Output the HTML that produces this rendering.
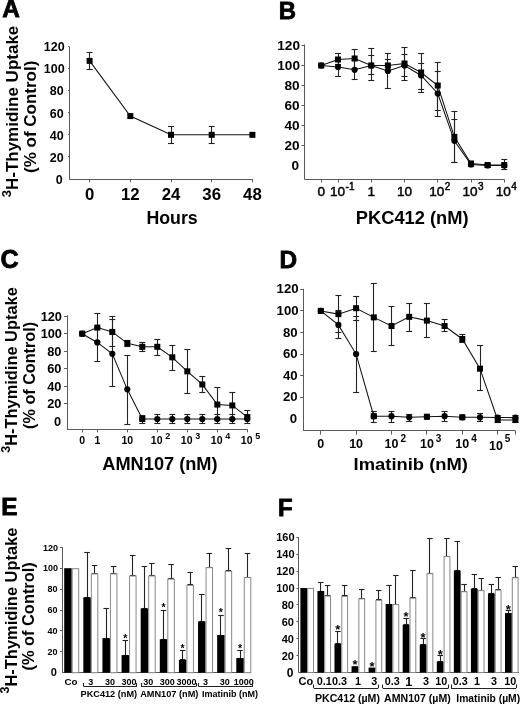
<!DOCTYPE html>
<html><head><meta charset="utf-8"><style>
html,body{margin:0;padding:0;background:#fff;}
svg{display:block;filter:grayscale(1) blur(0.35px);}
text{font-family:"Liberation Sans", sans-serif;fill:#000;}
</style></head><body>
<svg width="520" height="705" viewBox="0 0 520 705">
<rect width="520" height="705" fill="#fff"/>
<text x="2.30" y="17.20" font-size="24.4" text-anchor="start" font-weight="bold" stroke="#000" stroke-width="0.8" stroke-linejoin="miter">A</text>
<text transform="translate(17.70,111.50) rotate(-90)" font-size="17" text-anchor="middle" font-weight="bold"><tspan font-size="13" dy="-7.20">3</tspan><tspan dy="7.20">H-Thymidine Uptake</tspan></text>
<text transform="translate(35.60,116.80) rotate(-90)" font-size="17" text-anchor="middle" font-weight="bold">(% of Control)</text>
<line x1="69.50" y1="46.50" x2="69.50" y2="179.30" stroke="#5a5a5a" stroke-width="1.0"/>
<line x1="68.10" y1="46.50" x2="69.30" y2="46.50" stroke="#5a5a5a" stroke-width="1.0"/>
<text x="64.60" y="51.32" font-size="12.5" text-anchor="end" font-weight="bold" >120</text>
<line x1="68.10" y1="68.50" x2="69.30" y2="68.50" stroke="#5a5a5a" stroke-width="1.0"/>
<text x="64.60" y="73.40" font-size="12.5" text-anchor="end" font-weight="bold" >100</text>
<line x1="68.10" y1="90.50" x2="69.30" y2="90.50" stroke="#5a5a5a" stroke-width="1.0"/>
<text x="63.60" y="95.48" font-size="12.5" text-anchor="end" font-weight="bold" >80</text>
<line x1="68.10" y1="112.50" x2="69.30" y2="112.50" stroke="#5a5a5a" stroke-width="1.0"/>
<text x="63.60" y="117.56" font-size="12.5" text-anchor="end" font-weight="bold" >60</text>
<line x1="68.10" y1="134.50" x2="69.30" y2="134.50" stroke="#5a5a5a" stroke-width="1.0"/>
<text x="63.60" y="139.64" font-size="12.5" text-anchor="end" font-weight="bold" >40</text>
<line x1="68.10" y1="156.50" x2="69.30" y2="156.50" stroke="#5a5a5a" stroke-width="1.0"/>
<text x="63.60" y="161.72" font-size="12.5" text-anchor="end" font-weight="bold" >20</text>
<text x="62.60" y="183.80" font-size="12.5" text-anchor="end" font-weight="bold" >0</text>
<line x1="69.30" y1="179.50" x2="252.80" y2="179.50" stroke="#5a5a5a" stroke-width="1.0"/>
<line x1="89.50" y1="179.30" x2="89.50" y2="182.30" stroke="#5a5a5a" stroke-width="1.0"/>
<text x="89.60" y="199.80" font-size="16.8" text-anchor="middle" font-weight="bold" >0</text>
<line x1="130.50" y1="179.30" x2="130.50" y2="182.30" stroke="#5a5a5a" stroke-width="1.0"/>
<text x="130.30" y="199.80" font-size="16.8" text-anchor="middle" font-weight="bold" >12</text>
<line x1="171.50" y1="179.30" x2="171.50" y2="182.30" stroke="#5a5a5a" stroke-width="1.0"/>
<text x="171.00" y="199.80" font-size="16.8" text-anchor="middle" font-weight="bold" >24</text>
<line x1="211.50" y1="179.30" x2="211.50" y2="182.30" stroke="#5a5a5a" stroke-width="1.0"/>
<text x="211.70" y="199.80" font-size="16.8" text-anchor="middle" font-weight="bold" >36</text>
<line x1="252.50" y1="179.30" x2="252.50" y2="182.30" stroke="#5a5a5a" stroke-width="1.0"/>
<text x="252.40" y="199.80" font-size="16.8" text-anchor="middle" font-weight="bold" >48</text>
<text transform="translate(146.40,223.60) scale(1.0100,1)" font-size="17.6" text-anchor="start" font-weight="bold" >Hours</text>
<polyline points="89.60,60.87 130.30,116.07 171.00,134.84 211.70,134.84 252.40,134.84" fill="none" stroke="#111" stroke-width="1.05"/>
<line x1="89.50" y1="52.10" x2="89.50" y2="69.80" stroke="#222" stroke-width="1.1"/>
<line x1="86.60" y1="52.50" x2="92.60" y2="52.50" stroke="#222" stroke-width="1.1"/>
<line x1="86.60" y1="69.50" x2="92.60" y2="69.50" stroke="#222" stroke-width="1.1"/>
<line x1="171.50" y1="126.00" x2="171.50" y2="143.50" stroke="#222" stroke-width="1.1"/>
<line x1="168.00" y1="126.50" x2="174.00" y2="126.50" stroke="#222" stroke-width="1.1"/>
<line x1="168.00" y1="143.50" x2="174.00" y2="143.50" stroke="#222" stroke-width="1.1"/>
<line x1="211.50" y1="126.00" x2="211.50" y2="143.50" stroke="#222" stroke-width="1.1"/>
<line x1="208.70" y1="126.50" x2="214.70" y2="126.50" stroke="#222" stroke-width="1.1"/>
<line x1="208.70" y1="143.50" x2="214.70" y2="143.50" stroke="#222" stroke-width="1.1"/>
<rect x="86.60" y="57.87" width="6.00" height="6.00" fill="#000" stroke="none" stroke-width="1"/>
<rect x="127.30" y="113.07" width="6.00" height="6.00" fill="#000" stroke="none" stroke-width="1"/>
<rect x="168.00" y="131.84" width="6.00" height="6.00" fill="#000" stroke="none" stroke-width="1"/>
<rect x="208.70" y="131.84" width="6.00" height="6.00" fill="#000" stroke="none" stroke-width="1"/>
<rect x="249.40" y="131.84" width="6.00" height="6.00" fill="#000" stroke="none" stroke-width="1"/>
<text x="278.70" y="19.30" font-size="23.9" text-anchor="start" font-weight="bold" stroke="#000" stroke-width="0.8" stroke-linejoin="miter">B</text>
<line x1="304.50" y1="44.50" x2="304.50" y2="179.50" stroke="#5a5a5a" stroke-width="1.0"/>
<line x1="301.50" y1="45.50" x2="304.50" y2="45.50" stroke="#5a5a5a" stroke-width="1.0"/>
<text x="300.00" y="50.40" font-size="13.6" text-anchor="end" font-weight="bold" >120</text>
<line x1="301.50" y1="65.50" x2="304.50" y2="65.50" stroke="#5a5a5a" stroke-width="1.0"/>
<text x="300.00" y="70.40" font-size="13.6" text-anchor="end" font-weight="bold" >100</text>
<line x1="301.50" y1="85.50" x2="304.50" y2="85.50" stroke="#5a5a5a" stroke-width="1.0"/>
<text x="299.50" y="90.40" font-size="13.6" text-anchor="end" font-weight="bold" >80</text>
<line x1="301.50" y1="105.50" x2="304.50" y2="105.50" stroke="#5a5a5a" stroke-width="1.0"/>
<text x="299.50" y="110.40" font-size="13.6" text-anchor="end" font-weight="bold" >60</text>
<line x1="301.50" y1="125.50" x2="304.50" y2="125.50" stroke="#5a5a5a" stroke-width="1.0"/>
<text x="299.50" y="130.40" font-size="13.6" text-anchor="end" font-weight="bold" >40</text>
<line x1="301.50" y1="145.50" x2="304.50" y2="145.50" stroke="#5a5a5a" stroke-width="1.0"/>
<text x="299.50" y="150.40" font-size="13.6" text-anchor="end" font-weight="bold" >20</text>
<text x="299.00" y="170.40" font-size="13.6" text-anchor="end" font-weight="bold" >0</text>
<line x1="304.50" y1="179.50" x2="504.60" y2="179.50" stroke="#5a5a5a" stroke-width="1.0"/>
<line x1="321.50" y1="179.50" x2="321.50" y2="182.50" stroke="#5a5a5a" stroke-width="1.0"/>
<line x1="338.50" y1="179.50" x2="338.50" y2="182.50" stroke="#5a5a5a" stroke-width="1.0"/>
<line x1="371.50" y1="179.50" x2="371.50" y2="182.50" stroke="#5a5a5a" stroke-width="1.0"/>
<line x1="404.50" y1="179.50" x2="404.50" y2="182.50" stroke="#5a5a5a" stroke-width="1.0"/>
<line x1="437.50" y1="179.50" x2="437.50" y2="182.50" stroke="#5a5a5a" stroke-width="1.0"/>
<line x1="471.50" y1="179.50" x2="471.50" y2="182.50" stroke="#5a5a5a" stroke-width="1.0"/>
<line x1="504.50" y1="179.50" x2="504.50" y2="182.50" stroke="#5a5a5a" stroke-width="1.0"/>
<text x="321.25" y="195.90" font-size="13.6" text-anchor="middle" font-weight="normal" stroke="#000" stroke-width="0.45">0</text>
<text x="337.50" y="195.90" font-size="13.6" text-anchor="middle" font-weight="normal" stroke="#000" stroke-width="0.45">10</text>
<text x="345.56" y="189.90" font-size="10" font-weight="normal" stroke="#000" stroke-width="0.45">-1</text>
<text x="371.25" y="195.90" font-size="13.6" text-anchor="middle" font-weight="normal" stroke="#000" stroke-width="0.45">1</text>
<text x="404.50" y="195.90" font-size="13.6" text-anchor="middle" font-weight="normal" stroke="#000" stroke-width="0.45">10</text>
<text x="436.75" y="195.90" font-size="13.6" text-anchor="middle" font-weight="normal" stroke="#000" stroke-width="0.45">10</text>
<text x="444.81" y="189.90" font-size="10" font-weight="normal" stroke="#000" stroke-width="0.45">2</text>
<text x="470.00" y="195.90" font-size="13.6" text-anchor="middle" font-weight="normal" stroke="#000" stroke-width="0.45">10</text>
<text x="478.06" y="189.90" font-size="10" font-weight="normal" stroke="#000" stroke-width="0.45">3</text>
<text x="503.25" y="195.90" font-size="13.6" text-anchor="middle" font-weight="normal" stroke="#000" stroke-width="0.45">10</text>
<text x="511.31" y="189.90" font-size="10" font-weight="normal" stroke="#000" stroke-width="0.45">4</text>
<text transform="translate(355.80,223.70) scale(1.0170,1)" font-size="18" text-anchor="start" font-weight="bold" >PKC412 (nM)</text>
<line x1="338.50" y1="53.80" x2="338.50" y2="64.60" stroke="#222" stroke-width="1.1"/>
<line x1="335.00" y1="53.50" x2="341.00" y2="53.50" stroke="#222" stroke-width="1.1"/>
<line x1="335.00" y1="64.50" x2="341.00" y2="64.50" stroke="#222" stroke-width="1.1"/>
<line x1="338.50" y1="57.80" x2="338.50" y2="76.00" stroke="#222" stroke-width="1.1"/>
<line x1="335.00" y1="57.50" x2="341.00" y2="57.50" stroke="#222" stroke-width="1.1"/>
<line x1="335.00" y1="76.50" x2="341.00" y2="76.50" stroke="#222" stroke-width="1.1"/>
<line x1="354.50" y1="49.20" x2="354.50" y2="68.20" stroke="#222" stroke-width="1.1"/>
<line x1="351.62" y1="49.50" x2="357.62" y2="49.50" stroke="#222" stroke-width="1.1"/>
<line x1="351.62" y1="68.50" x2="357.62" y2="68.50" stroke="#222" stroke-width="1.1"/>
<line x1="354.50" y1="60.60" x2="354.50" y2="79.00" stroke="#222" stroke-width="1.1"/>
<line x1="351.62" y1="60.50" x2="357.62" y2="60.50" stroke="#222" stroke-width="1.1"/>
<line x1="351.62" y1="79.50" x2="357.62" y2="79.50" stroke="#222" stroke-width="1.1"/>
<line x1="371.50" y1="55.20" x2="371.50" y2="74.00" stroke="#222" stroke-width="1.1"/>
<line x1="368.25" y1="55.50" x2="374.25" y2="55.50" stroke="#222" stroke-width="1.1"/>
<line x1="368.25" y1="74.50" x2="374.25" y2="74.50" stroke="#222" stroke-width="1.1"/>
<line x1="371.50" y1="48.70" x2="371.50" y2="80.80" stroke="#222" stroke-width="1.1"/>
<line x1="368.25" y1="48.50" x2="374.25" y2="48.50" stroke="#222" stroke-width="1.1"/>
<line x1="368.25" y1="80.50" x2="374.25" y2="80.50" stroke="#222" stroke-width="1.1"/>
<line x1="387.50" y1="59.20" x2="387.50" y2="70.00" stroke="#222" stroke-width="1.1"/>
<line x1="384.88" y1="59.50" x2="390.88" y2="59.50" stroke="#222" stroke-width="1.1"/>
<line x1="384.88" y1="70.50" x2="390.88" y2="70.50" stroke="#222" stroke-width="1.1"/>
<line x1="387.50" y1="53.80" x2="387.50" y2="88.00" stroke="#222" stroke-width="1.1"/>
<line x1="384.88" y1="53.50" x2="390.88" y2="53.50" stroke="#222" stroke-width="1.1"/>
<line x1="384.88" y1="88.50" x2="390.88" y2="88.50" stroke="#222" stroke-width="1.1"/>
<line x1="404.50" y1="47.70" x2="404.50" y2="80.30" stroke="#222" stroke-width="1.1"/>
<line x1="401.50" y1="47.50" x2="407.50" y2="47.50" stroke="#222" stroke-width="1.1"/>
<line x1="401.50" y1="80.50" x2="407.50" y2="80.50" stroke="#222" stroke-width="1.1"/>
<line x1="404.50" y1="54.90" x2="404.50" y2="76.90" stroke="#222" stroke-width="1.1"/>
<line x1="401.50" y1="54.50" x2="407.50" y2="54.50" stroke="#222" stroke-width="1.1"/>
<line x1="401.50" y1="76.50" x2="407.50" y2="76.50" stroke="#222" stroke-width="1.1"/>
<line x1="421.50" y1="53.50" x2="421.50" y2="92.30" stroke="#222" stroke-width="1.1"/>
<line x1="418.12" y1="53.50" x2="424.12" y2="53.50" stroke="#222" stroke-width="1.1"/>
<line x1="418.12" y1="92.50" x2="424.12" y2="92.50" stroke="#222" stroke-width="1.1"/>
<line x1="421.50" y1="63.00" x2="421.50" y2="89.20" stroke="#222" stroke-width="1.1"/>
<line x1="418.12" y1="63.50" x2="424.12" y2="63.50" stroke="#222" stroke-width="1.1"/>
<line x1="418.12" y1="89.50" x2="424.12" y2="89.50" stroke="#222" stroke-width="1.1"/>
<line x1="437.50" y1="62.00" x2="437.50" y2="110.50" stroke="#222" stroke-width="1.1"/>
<line x1="434.75" y1="62.50" x2="440.75" y2="62.50" stroke="#222" stroke-width="1.1"/>
<line x1="434.75" y1="110.50" x2="440.75" y2="110.50" stroke="#222" stroke-width="1.1"/>
<line x1="437.50" y1="71.20" x2="437.50" y2="116.60" stroke="#222" stroke-width="1.1"/>
<line x1="434.75" y1="71.50" x2="440.75" y2="71.50" stroke="#222" stroke-width="1.1"/>
<line x1="434.75" y1="116.50" x2="440.75" y2="116.50" stroke="#222" stroke-width="1.1"/>
<line x1="454.50" y1="111.50" x2="454.50" y2="162.30" stroke="#222" stroke-width="1.1"/>
<line x1="451.38" y1="111.50" x2="457.38" y2="111.50" stroke="#222" stroke-width="1.1"/>
<line x1="451.38" y1="162.50" x2="457.38" y2="162.50" stroke="#222" stroke-width="1.1"/>
<line x1="454.50" y1="119.50" x2="454.50" y2="162.10" stroke="#222" stroke-width="1.1"/>
<line x1="451.38" y1="119.50" x2="457.38" y2="119.50" stroke="#222" stroke-width="1.1"/>
<line x1="451.38" y1="162.50" x2="457.38" y2="162.50" stroke="#222" stroke-width="1.1"/>
<line x1="471.50" y1="161.50" x2="471.50" y2="166.00" stroke="#222" stroke-width="1.1"/>
<line x1="468.00" y1="161.50" x2="474.00" y2="161.50" stroke="#222" stroke-width="1.1"/>
<line x1="468.00" y1="166.50" x2="474.00" y2="166.50" stroke="#222" stroke-width="1.1"/>
<line x1="487.50" y1="163.00" x2="487.50" y2="167.50" stroke="#222" stroke-width="1.1"/>
<line x1="484.62" y1="163.50" x2="490.62" y2="163.50" stroke="#222" stroke-width="1.1"/>
<line x1="484.62" y1="167.50" x2="490.62" y2="167.50" stroke="#222" stroke-width="1.1"/>
<line x1="504.50" y1="159.70" x2="504.50" y2="169.50" stroke="#222" stroke-width="1.1"/>
<line x1="501.25" y1="159.50" x2="507.25" y2="159.50" stroke="#222" stroke-width="1.1"/>
<line x1="501.25" y1="169.50" x2="507.25" y2="169.50" stroke="#222" stroke-width="1.1"/>
<polyline points="321.25,65.50 338.00,59.50 354.62,58.50 371.25,65.50 387.88,65.50 404.50,63.50 421.12,72.50 437.75,85.50 454.38,136.90 471.00,163.50 487.62,165.00 504.25,165.00" fill="none" stroke="#111" stroke-width="1.05"/>
<polyline points="321.25,65.50 338.00,66.90 354.62,69.80 371.25,65.50 387.88,70.90 404.50,65.50 421.12,75.50 437.75,93.50 454.38,140.80 471.00,164.50 487.62,165.50 504.25,165.50" fill="none" stroke="#111" stroke-width="1.05"/>
<circle cx="321.25" cy="65.50" r="3.1" fill="#000"/>
<circle cx="338.00" cy="66.90" r="3.1" fill="#000"/>
<circle cx="354.62" cy="69.80" r="3.1" fill="#000"/>
<circle cx="371.25" cy="65.50" r="3.1" fill="#000"/>
<circle cx="387.88" cy="70.90" r="3.1" fill="#000"/>
<circle cx="404.50" cy="65.50" r="3.1" fill="#000"/>
<circle cx="421.12" cy="75.50" r="3.1" fill="#000"/>
<circle cx="437.75" cy="93.50" r="3.1" fill="#000"/>
<circle cx="454.38" cy="140.80" r="3.1" fill="#000"/>
<circle cx="471.00" cy="164.50" r="3.1" fill="#000"/>
<circle cx="487.62" cy="165.50" r="3.1" fill="#000"/>
<circle cx="504.25" cy="165.50" r="3.1" fill="#000"/>
<rect x="318.25" y="62.50" width="6.00" height="6.00" fill="#000" stroke="none" stroke-width="1"/>
<rect x="335.00" y="56.50" width="6.00" height="6.00" fill="#000" stroke="none" stroke-width="1"/>
<rect x="351.62" y="55.50" width="6.00" height="6.00" fill="#000" stroke="none" stroke-width="1"/>
<rect x="368.25" y="62.50" width="6.00" height="6.00" fill="#000" stroke="none" stroke-width="1"/>
<rect x="384.88" y="62.50" width="6.00" height="6.00" fill="#000" stroke="none" stroke-width="1"/>
<rect x="401.50" y="60.50" width="6.00" height="6.00" fill="#000" stroke="none" stroke-width="1"/>
<rect x="418.12" y="69.50" width="6.00" height="6.00" fill="#000" stroke="none" stroke-width="1"/>
<rect x="434.75" y="82.50" width="6.00" height="6.00" fill="#000" stroke="none" stroke-width="1"/>
<rect x="451.38" y="133.90" width="6.00" height="6.00" fill="#000" stroke="none" stroke-width="1"/>
<rect x="468.00" y="160.50" width="6.00" height="6.00" fill="#000" stroke="none" stroke-width="1"/>
<rect x="484.62" y="162.00" width="6.00" height="6.00" fill="#000" stroke="none" stroke-width="1"/>
<rect x="501.25" y="162.00" width="6.00" height="6.00" fill="#000" stroke="none" stroke-width="1"/>
<text x="0.50" y="267.90" font-size="25.2" text-anchor="start" font-weight="bold" stroke="#000" stroke-width="0.8" stroke-linejoin="miter">C</text>
<text transform="translate(17.40,370.00) rotate(-90)" font-size="16.4" text-anchor="middle" font-weight="bold"><tspan font-size="12.6" dy="-7.00">3</tspan><tspan dy="7.00">H-Thymidine Uptake</tspan></text>
<text transform="translate(34.60,375.40) rotate(-90)" font-size="16.2" text-anchor="middle" font-weight="bold">(% of Control)</text>
<line x1="67.50" y1="315.30" x2="67.50" y2="429.40" stroke="#5a5a5a" stroke-width="1.0"/>
<line x1="64.00" y1="316.50" x2="67.00" y2="316.50" stroke="#5a5a5a" stroke-width="1.0"/>
<text x="62.00" y="320.81" font-size="12.8" text-anchor="end" font-weight="bold" >120</text>
<line x1="64.00" y1="333.50" x2="67.00" y2="333.50" stroke="#5a5a5a" stroke-width="1.0"/>
<text x="62.00" y="338.31" font-size="12.8" text-anchor="end" font-weight="bold" >100</text>
<line x1="64.00" y1="351.50" x2="67.00" y2="351.50" stroke="#5a5a5a" stroke-width="1.0"/>
<text x="61.40" y="355.81" font-size="12.8" text-anchor="end" font-weight="bold" >80</text>
<line x1="64.00" y1="368.50" x2="67.00" y2="368.50" stroke="#5a5a5a" stroke-width="1.0"/>
<text x="61.40" y="373.31" font-size="12.8" text-anchor="end" font-weight="bold" >60</text>
<line x1="64.00" y1="386.50" x2="67.00" y2="386.50" stroke="#5a5a5a" stroke-width="1.0"/>
<text x="61.40" y="390.81" font-size="12.8" text-anchor="end" font-weight="bold" >40</text>
<line x1="64.00" y1="403.50" x2="67.00" y2="403.50" stroke="#5a5a5a" stroke-width="1.0"/>
<text x="61.40" y="408.31" font-size="12.8" text-anchor="end" font-weight="bold" >20</text>
<text x="61.10" y="425.81" font-size="12.8" text-anchor="end" font-weight="bold" >0</text>
<line x1="67.00" y1="429.50" x2="247.60" y2="429.50" stroke="#5a5a5a" stroke-width="1.0"/>
<line x1="82.50" y1="429.40" x2="82.50" y2="432.40" stroke="#5a5a5a" stroke-width="1.0"/>
<line x1="97.50" y1="429.40" x2="97.50" y2="432.40" stroke="#5a5a5a" stroke-width="1.0"/>
<line x1="127.50" y1="429.40" x2="127.50" y2="432.40" stroke="#5a5a5a" stroke-width="1.0"/>
<line x1="157.50" y1="429.40" x2="157.50" y2="432.40" stroke="#5a5a5a" stroke-width="1.0"/>
<line x1="187.50" y1="429.40" x2="187.50" y2="432.40" stroke="#5a5a5a" stroke-width="1.0"/>
<line x1="217.50" y1="429.40" x2="217.50" y2="432.40" stroke="#5a5a5a" stroke-width="1.0"/>
<line x1="247.50" y1="429.40" x2="247.50" y2="432.40" stroke="#5a5a5a" stroke-width="1.0"/>
<text x="82.20" y="443.50" font-size="10.5" text-anchor="middle" font-weight="bold" >0</text>
<text x="97.30" y="443.50" font-size="10.5" text-anchor="middle" font-weight="bold" >1</text>
<text x="127.30" y="443.50" font-size="10.5" text-anchor="middle" font-weight="bold" >10</text>
<text x="156.70" y="443.50" font-size="10.5" text-anchor="middle" font-weight="bold" >10</text>
<text x="165.14" y="438.50" font-size="9" font-weight="bold" >2</text>
<text x="186.70" y="443.50" font-size="10.5" text-anchor="middle" font-weight="bold" >10</text>
<text x="195.14" y="438.50" font-size="9" font-weight="bold" >3</text>
<text x="216.70" y="443.50" font-size="10.5" text-anchor="middle" font-weight="bold" >10</text>
<text x="225.14" y="438.50" font-size="9" font-weight="bold" >4</text>
<text x="246.70" y="443.50" font-size="10.5" text-anchor="middle" font-weight="bold" >10</text>
<text x="255.14" y="438.50" font-size="9" font-weight="bold" >5</text>
<text transform="translate(102.30,470.20) scale(1.0230,1)" font-size="17.8" text-anchor="start" font-weight="bold" >AMN107 (nM)</text>
<line x1="97.50" y1="313.80" x2="97.50" y2="341.20" stroke="#222" stroke-width="1.1"/>
<line x1="94.30" y1="313.50" x2="100.30" y2="313.50" stroke="#222" stroke-width="1.1"/>
<line x1="94.30" y1="341.50" x2="100.30" y2="341.50" stroke="#222" stroke-width="1.1"/>
<line x1="97.50" y1="327.50" x2="97.50" y2="361.50" stroke="#222" stroke-width="1.1"/>
<line x1="94.30" y1="327.50" x2="100.30" y2="327.50" stroke="#222" stroke-width="1.1"/>
<line x1="94.30" y1="361.50" x2="100.30" y2="361.50" stroke="#222" stroke-width="1.1"/>
<line x1="112.50" y1="316.70" x2="112.50" y2="346.50" stroke="#222" stroke-width="1.1"/>
<line x1="109.30" y1="316.50" x2="115.30" y2="316.50" stroke="#222" stroke-width="1.1"/>
<line x1="109.30" y1="346.50" x2="115.30" y2="346.50" stroke="#222" stroke-width="1.1"/>
<line x1="112.50" y1="319.80" x2="112.50" y2="386.90" stroke="#222" stroke-width="1.1"/>
<line x1="109.30" y1="319.50" x2="115.30" y2="319.50" stroke="#222" stroke-width="1.1"/>
<line x1="109.30" y1="386.50" x2="115.30" y2="386.50" stroke="#222" stroke-width="1.1"/>
<line x1="127.50" y1="355.40" x2="127.50" y2="424.00" stroke="#222" stroke-width="1.1"/>
<line x1="124.30" y1="355.50" x2="130.30" y2="355.50" stroke="#222" stroke-width="1.1"/>
<line x1="124.30" y1="424.50" x2="130.30" y2="424.50" stroke="#222" stroke-width="1.1"/>
<line x1="127.50" y1="340.50" x2="127.50" y2="346.10" stroke="#222" stroke-width="1.1"/>
<line x1="124.30" y1="340.50" x2="130.30" y2="340.50" stroke="#222" stroke-width="1.1"/>
<line x1="124.30" y1="346.50" x2="130.30" y2="346.50" stroke="#222" stroke-width="1.1"/>
<line x1="142.50" y1="342.70" x2="142.50" y2="351.50" stroke="#222" stroke-width="1.1"/>
<line x1="139.30" y1="342.50" x2="145.30" y2="342.50" stroke="#222" stroke-width="1.1"/>
<line x1="139.30" y1="351.50" x2="145.30" y2="351.50" stroke="#222" stroke-width="1.1"/>
<line x1="142.50" y1="415.00" x2="142.50" y2="423.00" stroke="#222" stroke-width="1.1"/>
<line x1="139.30" y1="415.50" x2="145.30" y2="415.50" stroke="#222" stroke-width="1.1"/>
<line x1="139.30" y1="423.50" x2="145.30" y2="423.50" stroke="#222" stroke-width="1.1"/>
<line x1="157.50" y1="339.40" x2="157.50" y2="355.40" stroke="#222" stroke-width="1.1"/>
<line x1="154.30" y1="339.50" x2="160.30" y2="339.50" stroke="#222" stroke-width="1.1"/>
<line x1="154.30" y1="355.50" x2="160.30" y2="355.50" stroke="#222" stroke-width="1.1"/>
<line x1="157.50" y1="414.40" x2="157.50" y2="423.80" stroke="#222" stroke-width="1.1"/>
<line x1="154.30" y1="414.50" x2="160.30" y2="414.50" stroke="#222" stroke-width="1.1"/>
<line x1="154.30" y1="423.50" x2="160.30" y2="423.50" stroke="#222" stroke-width="1.1"/>
<line x1="172.50" y1="345.50" x2="172.50" y2="370.20" stroke="#222" stroke-width="1.1"/>
<line x1="169.30" y1="345.50" x2="175.30" y2="345.50" stroke="#222" stroke-width="1.1"/>
<line x1="169.30" y1="370.50" x2="175.30" y2="370.50" stroke="#222" stroke-width="1.1"/>
<line x1="172.50" y1="414.50" x2="172.50" y2="423.50" stroke="#222" stroke-width="1.1"/>
<line x1="169.30" y1="414.50" x2="175.30" y2="414.50" stroke="#222" stroke-width="1.1"/>
<line x1="169.30" y1="423.50" x2="175.30" y2="423.50" stroke="#222" stroke-width="1.1"/>
<line x1="187.50" y1="349.10" x2="187.50" y2="393.10" stroke="#222" stroke-width="1.1"/>
<line x1="184.30" y1="349.50" x2="190.30" y2="349.50" stroke="#222" stroke-width="1.1"/>
<line x1="184.30" y1="393.50" x2="190.30" y2="393.50" stroke="#222" stroke-width="1.1"/>
<line x1="187.50" y1="414.50" x2="187.50" y2="423.50" stroke="#222" stroke-width="1.1"/>
<line x1="184.30" y1="414.50" x2="190.30" y2="414.50" stroke="#222" stroke-width="1.1"/>
<line x1="184.30" y1="423.50" x2="190.30" y2="423.50" stroke="#222" stroke-width="1.1"/>
<line x1="202.50" y1="376.60" x2="202.50" y2="392.00" stroke="#222" stroke-width="1.1"/>
<line x1="199.30" y1="376.50" x2="205.30" y2="376.50" stroke="#222" stroke-width="1.1"/>
<line x1="199.30" y1="392.50" x2="205.30" y2="392.50" stroke="#222" stroke-width="1.1"/>
<line x1="202.50" y1="414.50" x2="202.50" y2="423.50" stroke="#222" stroke-width="1.1"/>
<line x1="199.30" y1="414.50" x2="205.30" y2="414.50" stroke="#222" stroke-width="1.1"/>
<line x1="199.30" y1="423.50" x2="205.30" y2="423.50" stroke="#222" stroke-width="1.1"/>
<line x1="217.50" y1="387.80" x2="217.50" y2="420.80" stroke="#222" stroke-width="1.1"/>
<line x1="214.30" y1="387.50" x2="220.30" y2="387.50" stroke="#222" stroke-width="1.1"/>
<line x1="214.30" y1="420.50" x2="220.30" y2="420.50" stroke="#222" stroke-width="1.1"/>
<line x1="217.50" y1="414.50" x2="217.50" y2="423.50" stroke="#222" stroke-width="1.1"/>
<line x1="214.30" y1="414.50" x2="220.30" y2="414.50" stroke="#222" stroke-width="1.1"/>
<line x1="214.30" y1="423.50" x2="220.30" y2="423.50" stroke="#222" stroke-width="1.1"/>
<line x1="232.50" y1="392.40" x2="232.50" y2="419.20" stroke="#222" stroke-width="1.1"/>
<line x1="229.30" y1="392.50" x2="235.30" y2="392.50" stroke="#222" stroke-width="1.1"/>
<line x1="229.30" y1="419.50" x2="235.30" y2="419.50" stroke="#222" stroke-width="1.1"/>
<line x1="232.50" y1="414.50" x2="232.50" y2="423.50" stroke="#222" stroke-width="1.1"/>
<line x1="229.30" y1="414.50" x2="235.30" y2="414.50" stroke="#222" stroke-width="1.1"/>
<line x1="229.30" y1="423.50" x2="235.30" y2="423.50" stroke="#222" stroke-width="1.1"/>
<line x1="247.50" y1="410.40" x2="247.50" y2="423.80" stroke="#222" stroke-width="1.1"/>
<line x1="244.30" y1="410.50" x2="250.30" y2="410.50" stroke="#222" stroke-width="1.1"/>
<line x1="244.30" y1="423.50" x2="250.30" y2="423.50" stroke="#222" stroke-width="1.1"/>
<polyline points="82.20,333.70 97.30,327.57 112.30,331.95 127.30,343.32 142.30,346.82 157.30,346.82 172.30,357.32 187.30,371.32 202.30,384.45 217.30,404.57 232.30,405.45 247.30,417.09" fill="none" stroke="#111" stroke-width="1.05"/>
<polyline points="82.20,333.70 97.30,342.45 112.30,353.82 127.30,389.35 142.30,419.01 157.30,419.01 172.30,419.01 187.30,419.01 202.30,419.01 217.30,419.01 232.30,419.01 247.30,419.01" fill="none" stroke="#111" stroke-width="1.05"/>
<circle cx="82.20" cy="333.70" r="3.1" fill="#000"/>
<circle cx="97.30" cy="342.45" r="3.1" fill="#000"/>
<circle cx="112.30" cy="353.82" r="3.1" fill="#000"/>
<circle cx="127.30" cy="389.35" r="3.1" fill="#000"/>
<circle cx="142.30" cy="419.01" r="3.1" fill="#000"/>
<circle cx="157.30" cy="419.01" r="3.1" fill="#000"/>
<circle cx="172.30" cy="419.01" r="3.1" fill="#000"/>
<circle cx="187.30" cy="419.01" r="3.1" fill="#000"/>
<circle cx="202.30" cy="419.01" r="3.1" fill="#000"/>
<circle cx="217.30" cy="419.01" r="3.1" fill="#000"/>
<circle cx="232.30" cy="419.01" r="3.1" fill="#000"/>
<circle cx="247.30" cy="419.01" r="3.1" fill="#000"/>
<rect x="79.20" y="330.70" width="6.00" height="6.00" fill="#000" stroke="none" stroke-width="1"/>
<rect x="94.30" y="324.57" width="6.00" height="6.00" fill="#000" stroke="none" stroke-width="1"/>
<rect x="109.30" y="328.95" width="6.00" height="6.00" fill="#000" stroke="none" stroke-width="1"/>
<rect x="124.30" y="340.32" width="6.00" height="6.00" fill="#000" stroke="none" stroke-width="1"/>
<rect x="139.30" y="343.82" width="6.00" height="6.00" fill="#000" stroke="none" stroke-width="1"/>
<rect x="154.30" y="343.82" width="6.00" height="6.00" fill="#000" stroke="none" stroke-width="1"/>
<rect x="169.30" y="354.32" width="6.00" height="6.00" fill="#000" stroke="none" stroke-width="1"/>
<rect x="184.30" y="368.32" width="6.00" height="6.00" fill="#000" stroke="none" stroke-width="1"/>
<rect x="199.30" y="381.45" width="6.00" height="6.00" fill="#000" stroke="none" stroke-width="1"/>
<rect x="214.30" y="401.57" width="6.00" height="6.00" fill="#000" stroke="none" stroke-width="1"/>
<rect x="229.30" y="402.45" width="6.00" height="6.00" fill="#000" stroke="none" stroke-width="1"/>
<rect x="244.30" y="414.09" width="6.00" height="6.00" fill="#000" stroke="none" stroke-width="1"/>
<rect x="139.30" y="416.01" width="6.00" height="6.00" fill="#000" stroke="none" stroke-width="1"/>
<text x="279.50" y="267.60" font-size="24.4" text-anchor="start" font-weight="bold" stroke="#000" stroke-width="0.8" stroke-linejoin="miter">D</text>
<line x1="303.50" y1="288.80" x2="303.50" y2="430.60" stroke="#5a5a5a" stroke-width="1.0"/>
<line x1="300.20" y1="289.50" x2="303.20" y2="289.50" stroke="#5a5a5a" stroke-width="1.0"/>
<text x="298.60" y="293.45" font-size="13.2" text-anchor="end" font-weight="bold" >120</text>
<line x1="300.20" y1="310.50" x2="303.20" y2="310.50" stroke="#5a5a5a" stroke-width="1.0"/>
<text x="298.60" y="315.05" font-size="13.2" text-anchor="end" font-weight="bold" >100</text>
<line x1="300.20" y1="332.50" x2="303.20" y2="332.50" stroke="#5a5a5a" stroke-width="1.0"/>
<text x="297.70" y="336.65" font-size="13.2" text-anchor="end" font-weight="bold" >80</text>
<line x1="300.20" y1="354.50" x2="303.20" y2="354.50" stroke="#5a5a5a" stroke-width="1.0"/>
<text x="297.70" y="358.25" font-size="13.2" text-anchor="end" font-weight="bold" >60</text>
<line x1="300.20" y1="375.50" x2="303.20" y2="375.50" stroke="#5a5a5a" stroke-width="1.0"/>
<text x="297.70" y="379.85" font-size="13.2" text-anchor="end" font-weight="bold" >40</text>
<line x1="300.20" y1="397.50" x2="303.20" y2="397.50" stroke="#5a5a5a" stroke-width="1.0"/>
<text x="297.70" y="401.45" font-size="13.2" text-anchor="end" font-weight="bold" >20</text>
<text x="297.10" y="423.05" font-size="13.2" text-anchor="end" font-weight="bold" >0</text>
<line x1="303.20" y1="430.50" x2="515.30" y2="430.50" stroke="#5a5a5a" stroke-width="1.0"/>
<line x1="320.50" y1="430.60" x2="320.50" y2="434.60" stroke="#5a5a5a" stroke-width="1.0"/>
<line x1="356.50" y1="430.60" x2="356.50" y2="434.60" stroke="#5a5a5a" stroke-width="1.0"/>
<line x1="391.50" y1="430.60" x2="391.50" y2="434.60" stroke="#5a5a5a" stroke-width="1.0"/>
<line x1="426.50" y1="430.60" x2="426.50" y2="434.60" stroke="#5a5a5a" stroke-width="1.0"/>
<line x1="462.50" y1="430.60" x2="462.50" y2="434.60" stroke="#5a5a5a" stroke-width="1.0"/>
<line x1="497.50" y1="430.60" x2="497.50" y2="434.60" stroke="#5a5a5a" stroke-width="1.0"/>
<line x1="515.50" y1="430.60" x2="515.50" y2="434.60" stroke="#5a5a5a" stroke-width="1.0"/>
<text x="320.80" y="447.50" font-size="12.5" text-anchor="middle" font-weight="bold" >0</text>
<text x="356.10" y="447.50" font-size="12.5" text-anchor="middle" font-weight="bold" >10</text>
<text x="391.50" y="447.50" font-size="12.5" text-anchor="middle" font-weight="bold" >10</text>
<text x="400.45" y="441.50" font-size="10" font-weight="bold" >2</text>
<text x="426.90" y="447.50" font-size="12.5" text-anchor="middle" font-weight="bold" >10</text>
<text x="435.85" y="441.50" font-size="10" font-weight="bold" >3</text>
<text x="462.30" y="447.50" font-size="12.5" text-anchor="middle" font-weight="bold" >10</text>
<text x="471.25" y="441.50" font-size="10" font-weight="bold" >4</text>
<text x="495.90" y="449.50" font-size="12.5" text-anchor="middle" font-weight="bold" >10</text>
<text x="504.85" y="441.50" font-size="10" font-weight="bold" >5</text>
<text transform="translate(353.60,469.50) scale(1.0630,1)" font-size="17.3" text-anchor="start" font-weight="bold" >Imatinib (nM)</text>
<line x1="338.50" y1="295.00" x2="338.50" y2="332.60" stroke="#222" stroke-width="1.1"/>
<line x1="335.40" y1="295.50" x2="341.40" y2="295.50" stroke="#222" stroke-width="1.1"/>
<line x1="335.40" y1="332.50" x2="341.40" y2="332.50" stroke="#222" stroke-width="1.1"/>
<line x1="338.50" y1="310.80" x2="338.50" y2="338.80" stroke="#222" stroke-width="1.1"/>
<line x1="335.40" y1="310.50" x2="341.40" y2="310.50" stroke="#222" stroke-width="1.1"/>
<line x1="335.40" y1="338.50" x2="341.40" y2="338.50" stroke="#222" stroke-width="1.1"/>
<line x1="356.50" y1="296.00" x2="356.50" y2="320.10" stroke="#222" stroke-width="1.1"/>
<line x1="353.10" y1="296.50" x2="359.10" y2="296.50" stroke="#222" stroke-width="1.1"/>
<line x1="353.10" y1="320.50" x2="359.10" y2="320.50" stroke="#222" stroke-width="1.1"/>
<line x1="356.50" y1="316.20" x2="356.50" y2="392.30" stroke="#222" stroke-width="1.1"/>
<line x1="353.10" y1="316.50" x2="359.10" y2="316.50" stroke="#222" stroke-width="1.1"/>
<line x1="353.10" y1="392.50" x2="359.10" y2="392.50" stroke="#222" stroke-width="1.1"/>
<line x1="373.50" y1="283.50" x2="373.50" y2="351.20" stroke="#222" stroke-width="1.1"/>
<line x1="370.80" y1="283.50" x2="376.80" y2="283.50" stroke="#222" stroke-width="1.1"/>
<line x1="370.80" y1="351.50" x2="376.80" y2="351.50" stroke="#222" stroke-width="1.1"/>
<line x1="373.50" y1="411.50" x2="373.50" y2="422.00" stroke="#222" stroke-width="1.1"/>
<line x1="370.80" y1="411.50" x2="376.80" y2="411.50" stroke="#222" stroke-width="1.1"/>
<line x1="370.80" y1="422.50" x2="376.80" y2="422.50" stroke="#222" stroke-width="1.1"/>
<line x1="391.50" y1="306.00" x2="391.50" y2="345.40" stroke="#222" stroke-width="1.1"/>
<line x1="388.50" y1="306.50" x2="394.50" y2="306.50" stroke="#222" stroke-width="1.1"/>
<line x1="388.50" y1="345.50" x2="394.50" y2="345.50" stroke="#222" stroke-width="1.1"/>
<line x1="391.50" y1="411.00" x2="391.50" y2="422.40" stroke="#222" stroke-width="1.1"/>
<line x1="388.50" y1="411.50" x2="394.50" y2="411.50" stroke="#222" stroke-width="1.1"/>
<line x1="388.50" y1="422.50" x2="394.50" y2="422.50" stroke="#222" stroke-width="1.1"/>
<line x1="409.50" y1="303.10" x2="409.50" y2="331.50" stroke="#222" stroke-width="1.1"/>
<line x1="406.20" y1="303.50" x2="412.20" y2="303.50" stroke="#222" stroke-width="1.1"/>
<line x1="406.20" y1="331.50" x2="412.20" y2="331.50" stroke="#222" stroke-width="1.1"/>
<line x1="409.50" y1="414.00" x2="409.50" y2="421.00" stroke="#222" stroke-width="1.1"/>
<line x1="406.20" y1="414.50" x2="412.20" y2="414.50" stroke="#222" stroke-width="1.1"/>
<line x1="406.20" y1="421.50" x2="412.20" y2="421.50" stroke="#222" stroke-width="1.1"/>
<line x1="426.50" y1="303.10" x2="426.50" y2="337.70" stroke="#222" stroke-width="1.1"/>
<line x1="423.90" y1="303.50" x2="429.90" y2="303.50" stroke="#222" stroke-width="1.1"/>
<line x1="423.90" y1="337.50" x2="429.90" y2="337.50" stroke="#222" stroke-width="1.1"/>
<line x1="444.50" y1="319.80" x2="444.50" y2="331.90" stroke="#222" stroke-width="1.1"/>
<line x1="441.60" y1="319.50" x2="447.60" y2="319.50" stroke="#222" stroke-width="1.1"/>
<line x1="441.60" y1="331.50" x2="447.60" y2="331.50" stroke="#222" stroke-width="1.1"/>
<line x1="444.50" y1="411.50" x2="444.50" y2="421.90" stroke="#222" stroke-width="1.1"/>
<line x1="441.60" y1="411.50" x2="447.60" y2="411.50" stroke="#222" stroke-width="1.1"/>
<line x1="441.60" y1="421.50" x2="447.60" y2="421.50" stroke="#222" stroke-width="1.1"/>
<line x1="462.50" y1="334.40" x2="462.50" y2="342.80" stroke="#222" stroke-width="1.1"/>
<line x1="459.30" y1="334.50" x2="465.30" y2="334.50" stroke="#222" stroke-width="1.1"/>
<line x1="459.30" y1="342.50" x2="465.30" y2="342.50" stroke="#222" stroke-width="1.1"/>
<line x1="480.50" y1="345.80" x2="480.50" y2="390.80" stroke="#222" stroke-width="1.1"/>
<line x1="477.00" y1="345.50" x2="483.00" y2="345.50" stroke="#222" stroke-width="1.1"/>
<line x1="477.00" y1="390.50" x2="483.00" y2="390.50" stroke="#222" stroke-width="1.1"/>
<line x1="480.50" y1="413.50" x2="480.50" y2="421.50" stroke="#222" stroke-width="1.1"/>
<line x1="477.00" y1="413.50" x2="483.00" y2="413.50" stroke="#222" stroke-width="1.1"/>
<line x1="477.00" y1="421.50" x2="483.00" y2="421.50" stroke="#222" stroke-width="1.1"/>
<line x1="497.50" y1="415.50" x2="497.50" y2="422.00" stroke="#222" stroke-width="1.1"/>
<line x1="494.70" y1="415.50" x2="500.70" y2="415.50" stroke="#222" stroke-width="1.1"/>
<line x1="494.70" y1="422.50" x2="500.70" y2="422.50" stroke="#222" stroke-width="1.1"/>
<line x1="515.50" y1="415.50" x2="515.50" y2="422.00" stroke="#222" stroke-width="1.1"/>
<line x1="512.40" y1="415.50" x2="518.40" y2="415.50" stroke="#222" stroke-width="1.1"/>
<line x1="512.40" y1="422.50" x2="518.40" y2="422.50" stroke="#222" stroke-width="1.1"/>
<polyline points="320.80,310.90 338.40,314.14 356.10,308.20 373.80,317.38 391.50,326.02 409.20,316.84 426.90,320.62 444.60,326.02 462.30,338.98 480.00,368.68 497.70,419.98 515.40,419.98" fill="none" stroke="#111" stroke-width="1.05"/>
<polyline points="320.80,310.90 338.40,324.94 356.10,354.10 373.80,416.20 391.50,416.20 409.20,417.28 426.90,416.74 444.60,416.20 462.30,417.28 480.00,417.28 497.70,417.60 515.40,417.60" fill="none" stroke="#111" stroke-width="1.05"/>
<circle cx="320.80" cy="310.90" r="3.1" fill="#000"/>
<circle cx="338.40" cy="324.94" r="3.1" fill="#000"/>
<circle cx="356.10" cy="354.10" r="3.1" fill="#000"/>
<circle cx="373.80" cy="416.20" r="3.1" fill="#000"/>
<circle cx="391.50" cy="416.20" r="3.1" fill="#000"/>
<circle cx="409.20" cy="417.28" r="3.1" fill="#000"/>
<circle cx="426.90" cy="416.74" r="3.1" fill="#000"/>
<circle cx="444.60" cy="416.20" r="3.1" fill="#000"/>
<circle cx="462.30" cy="417.28" r="3.1" fill="#000"/>
<circle cx="480.00" cy="417.28" r="3.1" fill="#000"/>
<circle cx="497.70" cy="417.60" r="3.1" fill="#000"/>
<circle cx="515.40" cy="417.60" r="3.1" fill="#000"/>
<rect x="317.80" y="307.90" width="6.00" height="6.00" fill="#000" stroke="none" stroke-width="1"/>
<rect x="335.40" y="311.14" width="6.00" height="6.00" fill="#000" stroke="none" stroke-width="1"/>
<rect x="353.10" y="305.20" width="6.00" height="6.00" fill="#000" stroke="none" stroke-width="1"/>
<rect x="370.80" y="314.38" width="6.00" height="6.00" fill="#000" stroke="none" stroke-width="1"/>
<rect x="388.50" y="323.02" width="6.00" height="6.00" fill="#000" stroke="none" stroke-width="1"/>
<rect x="406.20" y="313.84" width="6.00" height="6.00" fill="#000" stroke="none" stroke-width="1"/>
<rect x="423.90" y="317.62" width="6.00" height="6.00" fill="#000" stroke="none" stroke-width="1"/>
<rect x="441.60" y="323.02" width="6.00" height="6.00" fill="#000" stroke="none" stroke-width="1"/>
<rect x="459.30" y="335.98" width="6.00" height="6.00" fill="#000" stroke="none" stroke-width="1"/>
<rect x="477.00" y="365.68" width="6.00" height="6.00" fill="#000" stroke="none" stroke-width="1"/>
<rect x="494.70" y="416.98" width="6.00" height="6.00" fill="#000" stroke="none" stroke-width="1"/>
<rect x="512.40" y="416.98" width="6.00" height="6.00" fill="#000" stroke="none" stroke-width="1"/>
<rect x="370.80" y="413.20" width="6.00" height="6.00" fill="#000" stroke="none" stroke-width="1"/>
<rect x="423.90" y="413.74" width="6.00" height="6.00" fill="#000" stroke="none" stroke-width="1"/>
<rect x="459.30" y="414.28" width="6.00" height="6.00" fill="#000" stroke="none" stroke-width="1"/>
<text x="1.20" y="515.20" font-size="24.4" text-anchor="start" font-weight="bold" stroke="#000" stroke-width="0.8" stroke-linejoin="miter">E</text>
<text transform="translate(16.50,610.60) rotate(-90)" font-size="16.45" text-anchor="middle" font-weight="bold"><tspan font-size="12.7" dy="-7.10">3</tspan><tspan dy="7.10">H-Thymidine Uptake</tspan></text>
<text transform="translate(34.20,616.40) rotate(-90)" font-size="16.4" text-anchor="middle" font-weight="bold">(% of Control)</text>
<line x1="62.50" y1="547.00" x2="62.50" y2="672.70" stroke="#5a5a5a" stroke-width="1.0"/>
<line x1="60.00" y1="547.50" x2="62.00" y2="547.50" stroke="#5a5a5a" stroke-width="1.0"/>
<text x="58.00" y="550.54" font-size="9" text-anchor="end" font-weight="bold" >120</text>
<line x1="60.00" y1="568.50" x2="62.00" y2="568.50" stroke="#5a5a5a" stroke-width="1.0"/>
<text x="58.00" y="571.44" font-size="9" text-anchor="end" font-weight="bold" >100</text>
<line x1="60.00" y1="589.50" x2="62.00" y2="589.50" stroke="#5a5a5a" stroke-width="1.0"/>
<text x="57.40" y="592.34" font-size="9" text-anchor="end" font-weight="bold" >80</text>
<line x1="60.00" y1="610.50" x2="62.00" y2="610.50" stroke="#5a5a5a" stroke-width="1.0"/>
<text x="57.40" y="613.24" font-size="9" text-anchor="end" font-weight="bold" >60</text>
<line x1="60.00" y1="630.50" x2="62.00" y2="630.50" stroke="#5a5a5a" stroke-width="1.0"/>
<text x="57.40" y="634.14" font-size="9" text-anchor="end" font-weight="bold" >40</text>
<line x1="60.00" y1="651.50" x2="62.00" y2="651.50" stroke="#5a5a5a" stroke-width="1.0"/>
<text x="57.40" y="655.04" font-size="9" text-anchor="end" font-weight="bold" >20</text>
<text x="56.80" y="675.66" font-size="11" text-anchor="end" font-weight="bold" >0</text>
<line x1="62.00" y1="672.50" x2="251.00" y2="672.50" stroke="#5a5a5a" stroke-width="1.0"/>
<rect x="64.20" y="568.20" width="7.50" height="104.50" fill="#000" stroke="none" stroke-width="1"/>
<rect x="72.20" y="568.70" width="6.50" height="104.00" fill="#fff" stroke="#888" stroke-width="1"/>
<line x1="87.50" y1="552.94" x2="87.50" y2="597.46" stroke="#222" stroke-width="1.1"/>
<line x1="84.32" y1="552.50" x2="89.82" y2="552.50" stroke="#222" stroke-width="1.1"/>
<line x1="84.32" y1="597.50" x2="89.82" y2="597.50" stroke="#222" stroke-width="1.1"/>
<line x1="94.50" y1="565.07" x2="94.50" y2="573.43" stroke="#222" stroke-width="1.1"/>
<line x1="91.82" y1="565.50" x2="97.32" y2="565.50" stroke="#222" stroke-width="1.1"/>
<line x1="91.82" y1="573.50" x2="97.32" y2="573.50" stroke="#222" stroke-width="1.1"/>
<rect x="83.32" y="597.46" width="7.50" height="75.24" fill="#000" stroke="none" stroke-width="1"/>
<rect x="91.32" y="573.93" width="6.50" height="98.77" fill="#fff" stroke="#888" stroke-width="1"/>
<line x1="106.50" y1="608.96" x2="106.50" y2="638.22" stroke="#222" stroke-width="1.1"/>
<line x1="103.44" y1="608.50" x2="108.94" y2="608.50" stroke="#222" stroke-width="1.1"/>
<line x1="103.44" y1="638.50" x2="108.94" y2="638.50" stroke="#222" stroke-width="1.1"/>
<line x1="113.50" y1="566.42" x2="113.50" y2="573.43" stroke="#222" stroke-width="1.1"/>
<line x1="110.94" y1="566.50" x2="116.44" y2="566.50" stroke="#222" stroke-width="1.1"/>
<line x1="110.94" y1="573.50" x2="116.44" y2="573.50" stroke="#222" stroke-width="1.1"/>
<rect x="102.44" y="638.22" width="7.50" height="34.49" fill="#000" stroke="none" stroke-width="1"/>
<rect x="110.44" y="573.93" width="6.50" height="98.77" fill="#fff" stroke="#888" stroke-width="1"/>
<line x1="125.50" y1="640.83" x2="125.50" y2="655.14" stroke="#222" stroke-width="1.1"/>
<line x1="122.56" y1="640.50" x2="128.06" y2="640.50" stroke="#222" stroke-width="1.1"/>
<line x1="122.56" y1="655.50" x2="128.06" y2="655.50" stroke="#222" stroke-width="1.1"/>
<line x1="132.50" y1="555.97" x2="132.50" y2="575.52" stroke="#222" stroke-width="1.1"/>
<line x1="130.06" y1="555.50" x2="135.56" y2="555.50" stroke="#222" stroke-width="1.1"/>
<line x1="130.06" y1="575.50" x2="135.56" y2="575.50" stroke="#222" stroke-width="1.1"/>
<rect x="121.56" y="655.14" width="7.50" height="17.56" fill="#000" stroke="none" stroke-width="1"/>
<rect x="129.56" y="576.02" width="6.50" height="96.68" fill="#fff" stroke="#888" stroke-width="1"/>
<text x="125.31" y="641.83" font-size="10.5" text-anchor="middle" font-weight="bold" >*</text>
<line x1="144.50" y1="566.11" x2="144.50" y2="608.43" stroke="#222" stroke-width="1.1"/>
<line x1="141.68" y1="566.50" x2="147.18" y2="566.50" stroke="#222" stroke-width="1.1"/>
<line x1="141.68" y1="608.50" x2="147.18" y2="608.50" stroke="#222" stroke-width="1.1"/>
<line x1="151.50" y1="563.18" x2="151.50" y2="575.52" stroke="#222" stroke-width="1.1"/>
<line x1="149.18" y1="563.50" x2="154.68" y2="563.50" stroke="#222" stroke-width="1.1"/>
<line x1="149.18" y1="575.50" x2="154.68" y2="575.50" stroke="#222" stroke-width="1.1"/>
<rect x="140.68" y="608.43" width="7.50" height="64.27" fill="#000" stroke="none" stroke-width="1"/>
<rect x="148.68" y="576.02" width="6.50" height="96.68" fill="#fff" stroke="#888" stroke-width="1"/>
<line x1="163.50" y1="610.00" x2="163.50" y2="639.26" stroke="#222" stroke-width="1.1"/>
<line x1="160.80" y1="610.50" x2="166.30" y2="610.50" stroke="#222" stroke-width="1.1"/>
<line x1="160.80" y1="639.50" x2="166.30" y2="639.50" stroke="#222" stroke-width="1.1"/>
<line x1="171.50" y1="564.44" x2="171.50" y2="578.65" stroke="#222" stroke-width="1.1"/>
<line x1="168.30" y1="564.50" x2="173.80" y2="564.50" stroke="#222" stroke-width="1.1"/>
<line x1="168.30" y1="578.50" x2="173.80" y2="578.50" stroke="#222" stroke-width="1.1"/>
<rect x="159.80" y="639.26" width="7.50" height="33.44" fill="#000" stroke="none" stroke-width="1"/>
<rect x="167.80" y="579.15" width="6.50" height="93.55" fill="#fff" stroke="#888" stroke-width="1"/>
<text x="163.55" y="611.00" font-size="10.5" text-anchor="middle" font-weight="bold" >*</text>
<line x1="182.50" y1="650.75" x2="182.50" y2="659.95" stroke="#222" stroke-width="1.1"/>
<line x1="179.92" y1="650.50" x2="185.42" y2="650.50" stroke="#222" stroke-width="1.1"/>
<line x1="179.92" y1="659.50" x2="185.42" y2="659.50" stroke="#222" stroke-width="1.1"/>
<line x1="190.50" y1="572.38" x2="190.50" y2="584.92" stroke="#222" stroke-width="1.1"/>
<line x1="187.42" y1="572.50" x2="192.92" y2="572.50" stroke="#222" stroke-width="1.1"/>
<line x1="187.42" y1="584.50" x2="192.92" y2="584.50" stroke="#222" stroke-width="1.1"/>
<rect x="178.92" y="659.95" width="7.50" height="12.75" fill="#000" stroke="none" stroke-width="1"/>
<rect x="186.92" y="585.42" width="6.50" height="87.28" fill="#fff" stroke="#888" stroke-width="1"/>
<text x="182.67" y="651.75" font-size="10.5" text-anchor="middle" font-weight="bold" >*</text>
<line x1="201.50" y1="594.33" x2="201.50" y2="621.50" stroke="#222" stroke-width="1.1"/>
<line x1="199.04" y1="594.50" x2="204.54" y2="594.50" stroke="#222" stroke-width="1.1"/>
<line x1="199.04" y1="621.50" x2="204.54" y2="621.50" stroke="#222" stroke-width="1.1"/>
<line x1="209.50" y1="553.99" x2="209.50" y2="567.16" stroke="#222" stroke-width="1.1"/>
<line x1="206.54" y1="553.50" x2="212.04" y2="553.50" stroke="#222" stroke-width="1.1"/>
<line x1="206.54" y1="567.50" x2="212.04" y2="567.50" stroke="#222" stroke-width="1.1"/>
<rect x="198.04" y="621.50" width="7.50" height="51.21" fill="#000" stroke="none" stroke-width="1"/>
<rect x="206.04" y="567.66" width="6.50" height="105.04" fill="#fff" stroke="#888" stroke-width="1"/>
<line x1="220.50" y1="615.23" x2="220.50" y2="635.08" stroke="#222" stroke-width="1.1"/>
<line x1="218.16" y1="615.50" x2="223.66" y2="615.50" stroke="#222" stroke-width="1.1"/>
<line x1="218.16" y1="635.50" x2="223.66" y2="635.50" stroke="#222" stroke-width="1.1"/>
<line x1="228.50" y1="548.66" x2="228.50" y2="570.81" stroke="#222" stroke-width="1.1"/>
<line x1="225.66" y1="548.50" x2="231.16" y2="548.50" stroke="#222" stroke-width="1.1"/>
<line x1="225.66" y1="570.50" x2="231.16" y2="570.50" stroke="#222" stroke-width="1.1"/>
<rect x="217.16" y="635.08" width="7.50" height="37.62" fill="#000" stroke="none" stroke-width="1"/>
<rect x="225.16" y="571.31" width="6.50" height="101.39" fill="#fff" stroke="#888" stroke-width="1"/>
<text x="220.91" y="616.23" font-size="10.5" text-anchor="middle" font-weight="bold" >*</text>
<line x1="240.50" y1="650.75" x2="240.50" y2="658.07" stroke="#222" stroke-width="1.1"/>
<line x1="237.28" y1="650.50" x2="242.78" y2="650.50" stroke="#222" stroke-width="1.1"/>
<line x1="237.28" y1="658.50" x2="242.78" y2="658.50" stroke="#222" stroke-width="1.1"/>
<line x1="247.50" y1="553.99" x2="247.50" y2="577.08" stroke="#222" stroke-width="1.1"/>
<line x1="244.78" y1="553.50" x2="250.28" y2="553.50" stroke="#222" stroke-width="1.1"/>
<line x1="244.78" y1="577.50" x2="250.28" y2="577.50" stroke="#222" stroke-width="1.1"/>
<rect x="236.28" y="658.07" width="7.50" height="14.63" fill="#000" stroke="none" stroke-width="1"/>
<rect x="244.28" y="577.58" width="6.50" height="95.12" fill="#fff" stroke="#888" stroke-width="1"/>
<text x="240.03" y="651.75" font-size="10.5" text-anchor="middle" font-weight="bold" >*</text>
<text x="71.00" y="684.80" font-size="9.8" text-anchor="middle" font-weight="bold" >Co</text>
<text x="90.82" y="685.00" font-size="9" text-anchor="middle" font-weight="bold" >3</text>
<text x="109.94" y="685.00" font-size="9" text-anchor="middle" font-weight="bold" >30</text>
<text x="129.06" y="685.00" font-size="9" text-anchor="middle" font-weight="bold" >300</text>
<text x="148.18" y="685.00" font-size="9" text-anchor="middle" font-weight="bold" >30</text>
<text x="167.30" y="685.00" font-size="9" text-anchor="middle" font-weight="bold" >300</text>
<text x="186.42" y="685.00" font-size="9" text-anchor="middle" font-weight="bold" >3000</text>
<text x="205.54" y="685.00" font-size="9" text-anchor="middle" font-weight="bold" >3</text>
<text x="224.66" y="685.00" font-size="9" text-anchor="middle" font-weight="bold" >30</text>
<text x="243.78" y="685.00" font-size="9" text-anchor="middle" font-weight="bold" >1000</text>
<line x1="83.90" y1="686.50" x2="136.80" y2="686.50" stroke="#222" stroke-width="1.1"/>
<line x1="83.50" y1="683.00" x2="83.50" y2="686.50" stroke="#222" stroke-width="1.1"/>
<line x1="136.50" y1="683.00" x2="136.50" y2="686.50" stroke="#222" stroke-width="1.1"/>
<line x1="141.00" y1="686.50" x2="196.30" y2="686.50" stroke="#222" stroke-width="1.1"/>
<line x1="141.50" y1="683.00" x2="141.50" y2="686.50" stroke="#222" stroke-width="1.1"/>
<line x1="196.50" y1="683.00" x2="196.50" y2="686.50" stroke="#222" stroke-width="1.1"/>
<line x1="198.70" y1="686.50" x2="252.80" y2="686.50" stroke="#222" stroke-width="1.1"/>
<line x1="198.50" y1="683.00" x2="198.50" y2="686.50" stroke="#222" stroke-width="1.1"/>
<line x1="252.50" y1="683.00" x2="252.50" y2="686.50" stroke="#222" stroke-width="1.1"/>
<text x="80.50" y="697.00" font-size="9.2" text-anchor="start" font-weight="bold" >PKC412 (nM)</text>
<text x="140.20" y="697.00" font-size="9.2" text-anchor="start" font-weight="bold" >AMN107 (nM)</text>
<text transform="translate(202.00,697.00) scale(0.9800,1)" font-size="9.2" text-anchor="start" font-weight="bold" >Imatinib (nM)</text>
<text x="278.10" y="515.50" font-size="23.9" text-anchor="start" font-weight="bold" stroke="#000" stroke-width="0.8" stroke-linejoin="miter">F</text>
<line x1="298.50" y1="537.10" x2="298.50" y2="672.50" stroke="#5a5a5a" stroke-width="1.0"/>
<line x1="296.50" y1="537.50" x2="298.50" y2="537.50" stroke="#5a5a5a" stroke-width="1.0"/>
<text x="294.50" y="541.46" font-size="11" text-anchor="end" font-weight="bold" >160</text>
<line x1="296.50" y1="554.50" x2="298.50" y2="554.50" stroke="#5a5a5a" stroke-width="1.0"/>
<text x="294.50" y="558.36" font-size="11" text-anchor="end" font-weight="bold" >140</text>
<line x1="296.50" y1="571.50" x2="298.50" y2="571.50" stroke="#5a5a5a" stroke-width="1.0"/>
<text x="294.50" y="575.26" font-size="11" text-anchor="end" font-weight="bold" >120</text>
<line x1="296.50" y1="588.50" x2="298.50" y2="588.50" stroke="#5a5a5a" stroke-width="1.0"/>
<text x="294.50" y="592.16" font-size="11" text-anchor="end" font-weight="bold" >100</text>
<line x1="296.50" y1="604.50" x2="298.50" y2="604.50" stroke="#5a5a5a" stroke-width="1.0"/>
<text x="293.90" y="609.06" font-size="11" text-anchor="end" font-weight="bold" >80</text>
<line x1="296.50" y1="621.50" x2="298.50" y2="621.50" stroke="#5a5a5a" stroke-width="1.0"/>
<text x="293.90" y="625.96" font-size="11" text-anchor="end" font-weight="bold" >60</text>
<line x1="296.50" y1="638.50" x2="298.50" y2="638.50" stroke="#5a5a5a" stroke-width="1.0"/>
<text x="293.90" y="642.86" font-size="11" text-anchor="end" font-weight="bold" >40</text>
<line x1="296.50" y1="655.50" x2="298.50" y2="655.50" stroke="#5a5a5a" stroke-width="1.0"/>
<text x="293.90" y="659.76" font-size="11" text-anchor="end" font-weight="bold" >20</text>
<text x="293.50" y="677.02" font-size="12" text-anchor="end" font-weight="bold" >0</text>
<line x1="298.50" y1="672.50" x2="519.00" y2="672.50" stroke="#5a5a5a" stroke-width="1.0"/>
<rect x="300.40" y="588.00" width="6.80" height="84.50" fill="#000" stroke="none" stroke-width="1"/>
<rect x="307.70" y="588.50" width="5.80" height="84.00" fill="#fff" stroke="#888" stroke-width="1"/>
<line x1="320.50" y1="582.51" x2="320.50" y2="591.04" stroke="#222" stroke-width="1.1"/>
<line x1="318.10" y1="582.50" x2="323.60" y2="582.50" stroke="#222" stroke-width="1.1"/>
<line x1="318.10" y1="591.50" x2="323.60" y2="591.50" stroke="#222" stroke-width="1.1"/>
<line x1="327.50" y1="585.21" x2="327.50" y2="595.61" stroke="#222" stroke-width="1.1"/>
<line x1="324.90" y1="585.50" x2="330.40" y2="585.50" stroke="#222" stroke-width="1.1"/>
<line x1="324.90" y1="595.50" x2="330.40" y2="595.50" stroke="#222" stroke-width="1.1"/>
<rect x="317.45" y="591.04" width="6.80" height="81.46" fill="#000" stroke="none" stroke-width="1"/>
<rect x="324.75" y="596.11" width="5.80" height="76.39" fill="#fff" stroke="#888" stroke-width="1"/>
<line x1="337.50" y1="631.10" x2="337.50" y2="643.77" stroke="#222" stroke-width="1.1"/>
<line x1="335.15" y1="631.50" x2="340.65" y2="631.50" stroke="#222" stroke-width="1.1"/>
<line x1="335.15" y1="643.50" x2="340.65" y2="643.50" stroke="#222" stroke-width="1.1"/>
<line x1="344.50" y1="585.63" x2="344.50" y2="595.94" stroke="#222" stroke-width="1.1"/>
<line x1="341.95" y1="585.50" x2="347.45" y2="585.50" stroke="#222" stroke-width="1.1"/>
<line x1="341.95" y1="595.50" x2="347.45" y2="595.50" stroke="#222" stroke-width="1.1"/>
<rect x="334.50" y="643.77" width="6.80" height="28.73" fill="#000" stroke="none" stroke-width="1"/>
<rect x="341.80" y="596.44" width="5.80" height="76.06" fill="#fff" stroke="#888" stroke-width="1"/>
<text x="337.90" y="634.10" font-size="13" text-anchor="middle" font-weight="bold" >*</text>
<line x1="361.50" y1="589.27" x2="361.50" y2="598.39" stroke="#222" stroke-width="1.1"/>
<line x1="359.00" y1="589.50" x2="364.50" y2="589.50" stroke="#222" stroke-width="1.1"/>
<line x1="359.00" y1="598.50" x2="364.50" y2="598.50" stroke="#222" stroke-width="1.1"/>
<rect x="351.55" y="666.16" width="6.80" height="6.34" fill="#000" stroke="none" stroke-width="1"/>
<rect x="358.85" y="598.89" width="5.80" height="73.61" fill="#fff" stroke="#888" stroke-width="1"/>
<text x="354.95" y="669.16" font-size="13" text-anchor="middle" font-weight="bold" >*</text>
<line x1="378.50" y1="590.11" x2="378.50" y2="599.83" stroke="#222" stroke-width="1.1"/>
<line x1="376.05" y1="590.50" x2="381.55" y2="590.50" stroke="#222" stroke-width="1.1"/>
<line x1="376.05" y1="599.50" x2="381.55" y2="599.50" stroke="#222" stroke-width="1.1"/>
<rect x="368.60" y="667.60" width="6.80" height="4.90" fill="#000" stroke="none" stroke-width="1"/>
<rect x="375.90" y="600.33" width="5.80" height="72.17" fill="#fff" stroke="#888" stroke-width="1"/>
<text x="372.00" y="670.60" font-size="13" text-anchor="middle" font-weight="bold" >*</text>
<line x1="389.50" y1="585.63" x2="389.50" y2="604.06" stroke="#222" stroke-width="1.1"/>
<line x1="386.30" y1="585.50" x2="391.80" y2="585.50" stroke="#222" stroke-width="1.1"/>
<line x1="386.30" y1="604.50" x2="391.80" y2="604.50" stroke="#222" stroke-width="1.1"/>
<line x1="395.50" y1="575.66" x2="395.50" y2="604.06" stroke="#222" stroke-width="1.1"/>
<line x1="393.10" y1="575.50" x2="398.60" y2="575.50" stroke="#222" stroke-width="1.1"/>
<line x1="393.10" y1="604.50" x2="398.60" y2="604.50" stroke="#222" stroke-width="1.1"/>
<rect x="385.65" y="604.06" width="6.80" height="68.44" fill="#000" stroke="none" stroke-width="1"/>
<rect x="392.95" y="604.56" width="5.80" height="67.94" fill="#fff" stroke="#888" stroke-width="1"/>
<line x1="406.50" y1="618.42" x2="406.50" y2="624.84" stroke="#222" stroke-width="1.1"/>
<line x1="403.35" y1="618.50" x2="408.85" y2="618.50" stroke="#222" stroke-width="1.1"/>
<line x1="403.35" y1="624.50" x2="408.85" y2="624.50" stroke="#222" stroke-width="1.1"/>
<line x1="412.50" y1="570.76" x2="412.50" y2="597.72" stroke="#222" stroke-width="1.1"/>
<line x1="410.15" y1="570.50" x2="415.65" y2="570.50" stroke="#222" stroke-width="1.1"/>
<line x1="410.15" y1="597.50" x2="415.65" y2="597.50" stroke="#222" stroke-width="1.1"/>
<rect x="402.70" y="624.84" width="6.80" height="47.66" fill="#000" stroke="none" stroke-width="1"/>
<rect x="410.00" y="598.22" width="5.80" height="74.28" fill="#fff" stroke="#888" stroke-width="1"/>
<text x="406.10" y="621.42" font-size="13" text-anchor="middle" font-weight="bold" >*</text>
<line x1="423.50" y1="638.70" x2="423.50" y2="644.62" stroke="#222" stroke-width="1.1"/>
<line x1="420.40" y1="638.50" x2="425.90" y2="638.50" stroke="#222" stroke-width="1.1"/>
<line x1="420.40" y1="644.50" x2="425.90" y2="644.50" stroke="#222" stroke-width="1.1"/>
<line x1="429.50" y1="538.57" x2="429.50" y2="573.21" stroke="#222" stroke-width="1.1"/>
<line x1="427.20" y1="538.50" x2="432.70" y2="538.50" stroke="#222" stroke-width="1.1"/>
<line x1="427.20" y1="573.50" x2="432.70" y2="573.50" stroke="#222" stroke-width="1.1"/>
<rect x="419.75" y="644.62" width="6.80" height="27.88" fill="#000" stroke="none" stroke-width="1"/>
<rect x="427.05" y="573.71" width="5.80" height="98.79" fill="#fff" stroke="#888" stroke-width="1"/>
<text x="423.15" y="641.70" font-size="13" text-anchor="middle" font-weight="bold" >*</text>
<line x1="440.50" y1="655.60" x2="440.50" y2="661.68" stroke="#222" stroke-width="1.1"/>
<line x1="437.45" y1="655.50" x2="442.95" y2="655.50" stroke="#222" stroke-width="1.1"/>
<line x1="437.45" y1="661.50" x2="442.95" y2="661.50" stroke="#222" stroke-width="1.1"/>
<line x1="446.50" y1="538.99" x2="446.50" y2="556.06" stroke="#222" stroke-width="1.1"/>
<line x1="444.25" y1="538.50" x2="449.75" y2="538.50" stroke="#222" stroke-width="1.1"/>
<line x1="444.25" y1="556.50" x2="449.75" y2="556.50" stroke="#222" stroke-width="1.1"/>
<rect x="436.80" y="661.68" width="6.80" height="10.82" fill="#000" stroke="none" stroke-width="1"/>
<rect x="444.10" y="556.56" width="5.80" height="115.94" fill="#fff" stroke="#888" stroke-width="1"/>
<text x="440.20" y="658.60" font-size="13" text-anchor="middle" font-weight="bold" >*</text>
<line x1="457.50" y1="541.19" x2="457.50" y2="570.68" stroke="#222" stroke-width="1.1"/>
<line x1="454.50" y1="541.50" x2="460.00" y2="541.50" stroke="#222" stroke-width="1.1"/>
<line x1="454.50" y1="570.50" x2="460.00" y2="570.50" stroke="#222" stroke-width="1.1"/>
<line x1="464.50" y1="584.62" x2="464.50" y2="591.21" stroke="#222" stroke-width="1.1"/>
<line x1="461.30" y1="584.50" x2="466.80" y2="584.50" stroke="#222" stroke-width="1.1"/>
<line x1="461.30" y1="591.50" x2="466.80" y2="591.50" stroke="#222" stroke-width="1.1"/>
<rect x="453.85" y="570.68" width="6.80" height="101.82" fill="#000" stroke="none" stroke-width="1"/>
<rect x="461.15" y="591.71" width="5.80" height="80.79" fill="#fff" stroke="#888" stroke-width="1"/>
<line x1="474.50" y1="574.48" x2="474.50" y2="588.85" stroke="#222" stroke-width="1.1"/>
<line x1="471.55" y1="574.50" x2="477.05" y2="574.50" stroke="#222" stroke-width="1.1"/>
<line x1="471.55" y1="588.50" x2="477.05" y2="588.50" stroke="#222" stroke-width="1.1"/>
<line x1="481.50" y1="578.71" x2="481.50" y2="590.11" stroke="#222" stroke-width="1.1"/>
<line x1="478.35" y1="578.50" x2="483.85" y2="578.50" stroke="#222" stroke-width="1.1"/>
<line x1="478.35" y1="590.50" x2="483.85" y2="590.50" stroke="#222" stroke-width="1.1"/>
<rect x="470.90" y="588.85" width="6.80" height="83.65" fill="#000" stroke="none" stroke-width="1"/>
<rect x="478.20" y="590.61" width="5.80" height="81.89" fill="#fff" stroke="#888" stroke-width="1"/>
<line x1="491.50" y1="584.62" x2="491.50" y2="593.49" stroke="#222" stroke-width="1.1"/>
<line x1="488.60" y1="584.50" x2="494.10" y2="584.50" stroke="#222" stroke-width="1.1"/>
<line x1="488.60" y1="593.50" x2="494.10" y2="593.50" stroke="#222" stroke-width="1.1"/>
<line x1="498.50" y1="577.86" x2="498.50" y2="589.69" stroke="#222" stroke-width="1.1"/>
<line x1="495.40" y1="577.50" x2="500.90" y2="577.50" stroke="#222" stroke-width="1.1"/>
<line x1="495.40" y1="589.50" x2="500.90" y2="589.50" stroke="#222" stroke-width="1.1"/>
<rect x="487.95" y="593.49" width="6.80" height="79.01" fill="#000" stroke="none" stroke-width="1"/>
<rect x="495.25" y="590.19" width="5.80" height="82.31" fill="#fff" stroke="#888" stroke-width="1"/>
<line x1="508.50" y1="610.82" x2="508.50" y2="613.10" stroke="#222" stroke-width="1.1"/>
<line x1="505.65" y1="610.50" x2="511.15" y2="610.50" stroke="#222" stroke-width="1.1"/>
<line x1="505.65" y1="613.50" x2="511.15" y2="613.50" stroke="#222" stroke-width="1.1"/>
<line x1="515.50" y1="566.88" x2="515.50" y2="577.27" stroke="#222" stroke-width="1.1"/>
<line x1="512.45" y1="566.50" x2="517.95" y2="566.50" stroke="#222" stroke-width="1.1"/>
<line x1="512.45" y1="577.50" x2="517.95" y2="577.50" stroke="#222" stroke-width="1.1"/>
<rect x="505.00" y="613.10" width="6.80" height="59.40" fill="#000" stroke="none" stroke-width="1"/>
<rect x="512.30" y="577.77" width="5.80" height="94.73" fill="#fff" stroke="#888" stroke-width="1"/>
<text x="508.40" y="613.82" font-size="13" text-anchor="middle" font-weight="bold" >*</text>
<text x="305.80" y="684.70" font-size="11" text-anchor="middle" font-weight="bold" >Co</text>
<text x="324.25" y="684.70" font-size="10.8" text-anchor="middle" font-weight="bold" >0.1</text>
<text x="339.50" y="684.70" font-size="10.8" text-anchor="middle" font-weight="bold" >0.3</text>
<text x="357.95" y="684.70" font-size="10.8" text-anchor="middle" font-weight="bold" >1</text>
<text x="374.20" y="684.70" font-size="10.8" text-anchor="middle" font-weight="bold" >3</text>
<text x="392.15" y="684.70" font-size="10.8" text-anchor="middle" font-weight="bold" >0.3</text>
<text x="408.80" y="685.50" font-size="12.5" text-anchor="middle" font-weight="bold" >1</text>
<text x="425.95" y="684.70" font-size="10.8" text-anchor="middle" font-weight="bold" >3</text>
<text x="441.30" y="684.70" font-size="10.8" text-anchor="middle" font-weight="bold" >10</text>
<text x="460.25" y="684.70" font-size="10.8" text-anchor="middle" font-weight="bold" >0.3</text>
<text x="477.00" y="684.70" font-size="10.8" text-anchor="middle" font-weight="bold" >1</text>
<text x="494.05" y="684.70" font-size="10.8" text-anchor="middle" font-weight="bold" >3</text>
<text x="510.20" y="684.70" font-size="10.8" text-anchor="middle" font-weight="bold" >10</text>
<line x1="313.80" y1="688.50" x2="378.30" y2="688.50" stroke="#222" stroke-width="1.1"/>
<line x1="313.50" y1="684.50" x2="313.50" y2="688.00" stroke="#222" stroke-width="1.1"/>
<line x1="378.50" y1="684.50" x2="378.50" y2="688.00" stroke="#222" stroke-width="1.1"/>
<line x1="382.70" y1="688.50" x2="448.50" y2="688.50" stroke="#222" stroke-width="1.1"/>
<line x1="382.50" y1="684.50" x2="382.50" y2="688.00" stroke="#222" stroke-width="1.1"/>
<line x1="448.50" y1="684.50" x2="448.50" y2="688.00" stroke="#222" stroke-width="1.1"/>
<line x1="451.10" y1="688.50" x2="516.20" y2="688.50" stroke="#222" stroke-width="1.1"/>
<line x1="451.50" y1="684.50" x2="451.50" y2="688.00" stroke="#222" stroke-width="1.1"/>
<line x1="516.50" y1="684.50" x2="516.50" y2="688.00" stroke="#222" stroke-width="1.1"/>
<text x="315.00" y="701.80" font-size="10.6" text-anchor="start" font-weight="bold" >PKC412 (µM)</text>
<text x="384.00" y="701.80" font-size="10.6" text-anchor="start" font-weight="bold" >AMN107 (µM)</text>
<text transform="translate(456.30,701.80) scale(0.9750,1)" font-size="10.6" text-anchor="start" font-weight="bold" >Imatinib (µM)</text>
</svg>
</body></html>
